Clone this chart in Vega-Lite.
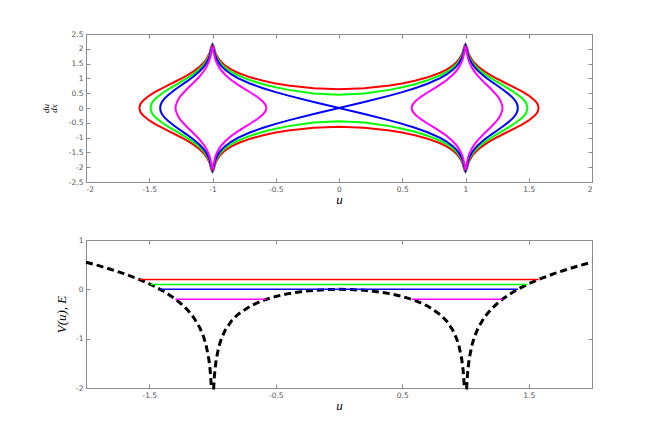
{
"$schema": "https://vega.github.io/schema/vega-lite/v6.json",
"padding": {"left": 40, "top": 29, "right": 5, "bottom": 5},
"bounds": "flush",
"spacing": 58,
"config": {
  "view": {"stroke": "#8c8c8c", "strokeWidth": 1},
  "axis": {"domain": false, "grid": false, "tickColor": "#8c8c8c", "tickSize": -4, "labelFont": "DejaVu Sans", "labelFontSize": 7.5, "labelColor": "#555555", "labelPadding": 7, "titleFont": "Liberation Serif", "titleFontStyle": "italic", "titleFontWeight": "normal", "titleColor": "#000000", "labelExpr": "'' + datum.value"}
},
"datasets": {
"phase": [
{"c":"r","k":"1a","u":-1.5786,"p":0},{"c":"r","k":"1a","u":-1.57,"p":0.135},{"c":"r","k":"1a","u":-1.55,"p":0.249},{"c":"r","k":"1a","u":-1.5,"p":0.421},{"c":"r","k":"1a","u":-1.45,"p":0.55},{"c":"r","k":"1a","u":-1.4,"p":0.664},{"c":"r","k":"1a","u":-1.35,"p":0.772},{"c":"r","k":"1a","u":-1.3,"p":0.878},{"c":"r","k":"1a","u":-1.25,"p":0.988},{"c":"r","k":"1a","u":-1.2,"p":1.105},{"c":"r","k":"1a","u":-1.15,"p":1.238},{"c":"r","k":"1a","u":-1.1,"p":1.4},{"c":"r","k":"1a","u":-1.07,"p":1.527},{"c":"r","k":"1a","u":-1.05,"p":1.636},{"c":"r","k":"1a","u":-1.03,"p":1.788},{"c":"r","k":"1a","u":-1.02,"p":1.9},{"c":"r","k":"1a","u":-1.01,"p":2.075},{"c":"r","k":"1a","u":-1,"p":2.15},{"c":"r","k":"1a","u":-0.99,"p":2.078},{"c":"r","k":"1a","u":-0.98,"p":1.905},{"c":"r","k":"1a","u":-0.97,"p":1.797},{"c":"r","k":"1a","u":-0.95,"p":1.652},{"c":"r","k":"1a","u":-0.93,"p":1.55},{"c":"r","k":"1a","u":-0.9,"p":1.436},{"c":"r","k":"1a","u":-0.85,"p":1.297},{"c":"r","k":"1a","u":-0.8,"p":1.192},{"c":"r","k":"1a","u":-0.7,"p":1.036},{"c":"r","k":"1a","u":-0.6,"p":0.92},{"c":"r","k":"1a","u":-0.5,"p":0.829},{"c":"r","k":"1a","u":-0.4,"p":0.758},{"c":"r","k":"1a","u":-0.2,"p":0.664},{"c":"r","k":"1a","u":0,"p":0.632},{"c":"r","k":"1a","u":0.2,"p":0.664},{"c":"r","k":"1a","u":0.4,"p":0.758},{"c":"r","k":"1a","u":0.5,"p":0.829},{"c":"r","k":"1a","u":0.6,"p":0.92},{"c":"r","k":"1a","u":0.7,"p":1.036},{"c":"r","k":"1a","u":0.8,"p":1.192},{"c":"r","k":"1a","u":0.85,"p":1.297},{"c":"r","k":"1a","u":0.9,"p":1.436},{"c":"r","k":"1a","u":0.93,"p":1.55},{"c":"r","k":"1a","u":0.95,"p":1.652},{"c":"r","k":"1a","u":0.97,"p":1.797},{"c":"r","k":"1a","u":0.98,"p":1.905},{"c":"r","k":"1a","u":0.99,"p":2.078},{"c":"r","k":"1a","u":1,"p":2.15},{"c":"r","k":"1a","u":1.01,"p":2.075},{"c":"r","k":"1a","u":1.02,"p":1.9},{"c":"r","k":"1a","u":1.03,"p":1.788},{"c":"r","k":"1a","u":1.05,"p":1.636},{"c":"r","k":"1a","u":1.07,"p":1.527},{"c":"r","k":"1a","u":1.1,"p":1.4},{"c":"r","k":"1a","u":1.15,"p":1.238},{"c":"r","k":"1a","u":1.2,"p":1.105},{"c":"r","k":"1a","u":1.25,"p":0.988},{"c":"r","k":"1a","u":1.3,"p":0.878},{"c":"r","k":"1a","u":1.35,"p":0.772},{"c":"r","k":"1a","u":1.4,"p":0.664},{"c":"r","k":"1a","u":1.45,"p":0.55},{"c":"r","k":"1a","u":1.5,"p":0.421},{"c":"r","k":"1a","u":1.55,"p":0.249},{"c":"r","k":"1a","u":1.57,"p":0.135},{"c":"r","k":"1a","u":1.5786,"p":0},
{"c":"r","k":"1b","u":-1.5786,"p":0},{"c":"r","k":"1b","u":-1.57,"p":-0.135},{"c":"r","k":"1b","u":-1.55,"p":-0.249},{"c":"r","k":"1b","u":-1.5,"p":-0.421},{"c":"r","k":"1b","u":-1.45,"p":-0.55},{"c":"r","k":"1b","u":-1.4,"p":-0.664},{"c":"r","k":"1b","u":-1.35,"p":-0.772},{"c":"r","k":"1b","u":-1.3,"p":-0.878},{"c":"r","k":"1b","u":-1.25,"p":-0.988},{"c":"r","k":"1b","u":-1.2,"p":-1.105},{"c":"r","k":"1b","u":-1.15,"p":-1.238},{"c":"r","k":"1b","u":-1.1,"p":-1.4},{"c":"r","k":"1b","u":-1.07,"p":-1.527},{"c":"r","k":"1b","u":-1.05,"p":-1.636},{"c":"r","k":"1b","u":-1.03,"p":-1.788},{"c":"r","k":"1b","u":-1.02,"p":-1.9},{"c":"r","k":"1b","u":-1.01,"p":-2.075},{"c":"r","k":"1b","u":-1,"p":-2.15},{"c":"r","k":"1b","u":-0.99,"p":-2.078},{"c":"r","k":"1b","u":-0.98,"p":-1.905},{"c":"r","k":"1b","u":-0.97,"p":-1.797},{"c":"r","k":"1b","u":-0.95,"p":-1.652},{"c":"r","k":"1b","u":-0.93,"p":-1.55},{"c":"r","k":"1b","u":-0.9,"p":-1.436},{"c":"r","k":"1b","u":-0.85,"p":-1.297},{"c":"r","k":"1b","u":-0.8,"p":-1.192},{"c":"r","k":"1b","u":-0.7,"p":-1.036},{"c":"r","k":"1b","u":-0.6,"p":-0.92},{"c":"r","k":"1b","u":-0.5,"p":-0.829},{"c":"r","k":"1b","u":-0.4,"p":-0.758},{"c":"r","k":"1b","u":-0.2,"p":-0.664},{"c":"r","k":"1b","u":0,"p":-0.632},{"c":"r","k":"1b","u":0.2,"p":-0.664},{"c":"r","k":"1b","u":0.4,"p":-0.758},{"c":"r","k":"1b","u":0.5,"p":-0.829},{"c":"r","k":"1b","u":0.6,"p":-0.92},{"c":"r","k":"1b","u":0.7,"p":-1.036},{"c":"r","k":"1b","u":0.8,"p":-1.192},{"c":"r","k":"1b","u":0.85,"p":-1.297},{"c":"r","k":"1b","u":0.9,"p":-1.436},{"c":"r","k":"1b","u":0.93,"p":-1.55},{"c":"r","k":"1b","u":0.95,"p":-1.652},{"c":"r","k":"1b","u":0.97,"p":-1.797},{"c":"r","k":"1b","u":0.98,"p":-1.905},{"c":"r","k":"1b","u":0.99,"p":-2.078},{"c":"r","k":"1b","u":1,"p":-2.15},{"c":"r","k":"1b","u":1.01,"p":-2.075},{"c":"r","k":"1b","u":1.02,"p":-1.9},{"c":"r","k":"1b","u":1.03,"p":-1.788},{"c":"r","k":"1b","u":1.05,"p":-1.636},{"c":"r","k":"1b","u":1.07,"p":-1.527},{"c":"r","k":"1b","u":1.1,"p":-1.4},{"c":"r","k":"1b","u":1.15,"p":-1.238},{"c":"r","k":"1b","u":1.2,"p":-1.105},{"c":"r","k":"1b","u":1.25,"p":-0.988},{"c":"r","k":"1b","u":1.3,"p":-0.878},{"c":"r","k":"1b","u":1.35,"p":-0.772},{"c":"r","k":"1b","u":1.4,"p":-0.664},{"c":"r","k":"1b","u":1.45,"p":-0.55},{"c":"r","k":"1b","u":1.5,"p":-0.421},{"c":"r","k":"1b","u":1.55,"p":-0.249},{"c":"r","k":"1b","u":1.57,"p":-0.135},{"c":"r","k":"1b","u":1.5786,"p":0},
{"c":"g","k":"2a","u":-1.4904,"p":0},{"c":"g","k":"2a","u":-1.48,"p":0.16},{"c":"g","k":"2a","u":-1.47,"p":0.225},{"c":"g","k":"2a","u":-1.45,"p":0.32},{"c":"g","k":"2a","u":-1.4,"p":0.491},{"c":"g","k":"2a","u":-1.35,"p":0.629},{"c":"g","k":"2a","u":-1.3,"p":0.756},{"c":"g","k":"2a","u":-1.25,"p":0.881},{"c":"g","k":"2a","u":-1.2,"p":1.01},{"c":"g","k":"2a","u":-1.15,"p":1.154},{"c":"g","k":"2a","u":-1.1,"p":1.327},{"c":"g","k":"2a","u":-1.07,"p":1.46},{"c":"g","k":"2a","u":-1.05,"p":1.574},{"c":"g","k":"2a","u":-1.03,"p":1.732},{"c":"g","k":"2a","u":-1.02,"p":1.846},{"c":"g","k":"2a","u":-1.01,"p":2.027},{"c":"g","k":"2a","u":-1,"p":2.13},{"c":"g","k":"2a","u":-0.99,"p":2.029},{"c":"g","k":"2a","u":-0.98,"p":1.852},{"c":"g","k":"2a","u":-0.97,"p":1.74},{"c":"g","k":"2a","u":-0.95,"p":1.59},{"c":"g","k":"2a","u":-0.93,"p":1.484},{"c":"g","k":"2a","u":-0.9,"p":1.364},{"c":"g","k":"2a","u":-0.85,"p":1.217},{"c":"g","k":"2a","u":-0.8,"p":1.105},{"c":"g","k":"2a","u":-0.7,"p":0.935},{"c":"g","k":"2a","u":-0.6,"p":0.804},{"c":"g","k":"2a","u":-0.5,"p":0.698},{"c":"g","k":"2a","u":-0.4,"p":0.612},{"c":"g","k":"2a","u":-0.2,"p":0.491},{"c":"g","k":"2a","u":0,"p":0.447},{"c":"g","k":"2a","u":0.2,"p":0.491},{"c":"g","k":"2a","u":0.4,"p":0.612},{"c":"g","k":"2a","u":0.5,"p":0.698},{"c":"g","k":"2a","u":0.6,"p":0.804},{"c":"g","k":"2a","u":0.7,"p":0.935},{"c":"g","k":"2a","u":0.8,"p":1.105},{"c":"g","k":"2a","u":0.85,"p":1.217},{"c":"g","k":"2a","u":0.9,"p":1.364},{"c":"g","k":"2a","u":0.93,"p":1.484},{"c":"g","k":"2a","u":0.95,"p":1.59},{"c":"g","k":"2a","u":0.97,"p":1.74},{"c":"g","k":"2a","u":0.98,"p":1.852},{"c":"g","k":"2a","u":0.99,"p":2.029},{"c":"g","k":"2a","u":1,"p":2.13},{"c":"g","k":"2a","u":1.01,"p":2.027},{"c":"g","k":"2a","u":1.02,"p":1.846},{"c":"g","k":"2a","u":1.03,"p":1.732},{"c":"g","k":"2a","u":1.05,"p":1.574},{"c":"g","k":"2a","u":1.07,"p":1.46},{"c":"g","k":"2a","u":1.1,"p":1.327},{"c":"g","k":"2a","u":1.15,"p":1.154},{"c":"g","k":"2a","u":1.2,"p":1.01},{"c":"g","k":"2a","u":1.25,"p":0.881},{"c":"g","k":"2a","u":1.3,"p":0.756},{"c":"g","k":"2a","u":1.35,"p":0.629},{"c":"g","k":"2a","u":1.4,"p":0.491},{"c":"g","k":"2a","u":1.45,"p":0.32},{"c":"g","k":"2a","u":1.47,"p":0.225},{"c":"g","k":"2a","u":1.48,"p":0.16},{"c":"g","k":"2a","u":1.4904,"p":0},
{"c":"g","k":"2b","u":-1.4904,"p":0},{"c":"g","k":"2b","u":-1.48,"p":-0.16},{"c":"g","k":"2b","u":-1.47,"p":-0.225},{"c":"g","k":"2b","u":-1.45,"p":-0.32},{"c":"g","k":"2b","u":-1.4,"p":-0.491},{"c":"g","k":"2b","u":-1.35,"p":-0.629},{"c":"g","k":"2b","u":-1.3,"p":-0.756},{"c":"g","k":"2b","u":-1.25,"p":-0.881},{"c":"g","k":"2b","u":-1.2,"p":-1.01},{"c":"g","k":"2b","u":-1.15,"p":-1.154},{"c":"g","k":"2b","u":-1.1,"p":-1.327},{"c":"g","k":"2b","u":-1.07,"p":-1.46},{"c":"g","k":"2b","u":-1.05,"p":-1.574},{"c":"g","k":"2b","u":-1.03,"p":-1.732},{"c":"g","k":"2b","u":-1.02,"p":-1.846},{"c":"g","k":"2b","u":-1.01,"p":-2.027},{"c":"g","k":"2b","u":-1,"p":-2.13},{"c":"g","k":"2b","u":-0.99,"p":-2.029},{"c":"g","k":"2b","u":-0.98,"p":-1.852},{"c":"g","k":"2b","u":-0.97,"p":-1.74},{"c":"g","k":"2b","u":-0.95,"p":-1.59},{"c":"g","k":"2b","u":-0.93,"p":-1.484},{"c":"g","k":"2b","u":-0.9,"p":-1.364},{"c":"g","k":"2b","u":-0.85,"p":-1.217},{"c":"g","k":"2b","u":-0.8,"p":-1.105},{"c":"g","k":"2b","u":-0.7,"p":-0.935},{"c":"g","k":"2b","u":-0.6,"p":-0.804},{"c":"g","k":"2b","u":-0.5,"p":-0.698},{"c":"g","k":"2b","u":-0.4,"p":-0.612},{"c":"g","k":"2b","u":-0.2,"p":-0.491},{"c":"g","k":"2b","u":0,"p":-0.447},{"c":"g","k":"2b","u":0.2,"p":-0.491},{"c":"g","k":"2b","u":0.4,"p":-0.612},{"c":"g","k":"2b","u":0.5,"p":-0.698},{"c":"g","k":"2b","u":0.6,"p":-0.804},{"c":"g","k":"2b","u":0.7,"p":-0.935},{"c":"g","k":"2b","u":0.8,"p":-1.105},{"c":"g","k":"2b","u":0.85,"p":-1.217},{"c":"g","k":"2b","u":0.9,"p":-1.364},{"c":"g","k":"2b","u":0.93,"p":-1.484},{"c":"g","k":"2b","u":0.95,"p":-1.59},{"c":"g","k":"2b","u":0.97,"p":-1.74},{"c":"g","k":"2b","u":0.98,"p":-1.852},{"c":"g","k":"2b","u":0.99,"p":-2.029},{"c":"g","k":"2b","u":1,"p":-2.13},{"c":"g","k":"2b","u":1.01,"p":-2.027},{"c":"g","k":"2b","u":1.02,"p":-1.846},{"c":"g","k":"2b","u":1.03,"p":-1.732},{"c":"g","k":"2b","u":1.05,"p":-1.574},{"c":"g","k":"2b","u":1.07,"p":-1.46},{"c":"g","k":"2b","u":1.1,"p":-1.327},{"c":"g","k":"2b","u":1.15,"p":-1.154},{"c":"g","k":"2b","u":1.2,"p":-1.01},{"c":"g","k":"2b","u":1.25,"p":-0.881},{"c":"g","k":"2b","u":1.3,"p":-0.756},{"c":"g","k":"2b","u":1.35,"p":-0.629},{"c":"g","k":"2b","u":1.4,"p":-0.491},{"c":"g","k":"2b","u":1.45,"p":-0.32},{"c":"g","k":"2b","u":1.47,"p":-0.225},{"c":"g","k":"2b","u":1.48,"p":-0.16},{"c":"g","k":"2b","u":1.4904,"p":0},
{"c":"b","k":"3a","u":-1.4142,"p":0},{"c":"b","k":"3a","u":-1.41,"p":0.109},{"c":"b","k":"3a","u":-1.4,"p":0.202},{"c":"b","k":"3a","u":-1.38,"p":0.317},{"c":"b","k":"3a","u":-1.35,"p":0.442},{"c":"b","k":"3a","u":-1.3,"p":0.609},{"c":"b","k":"3a","u":-1.25,"p":0.759},{"c":"b","k":"3a","u":-1.2,"p":0.906},{"c":"b","k":"3a","u":-1.15,"p":1.064},{"c":"b","k":"3a","u":-1.1,"p":1.249},{"c":"b","k":"3a","u":-1.07,"p":1.39},{"c":"b","k":"3a","u":-1.05,"p":1.509},{"c":"b","k":"3a","u":-1.03,"p":1.673},{"c":"b","k":"3a","u":-1.02,"p":1.791},{"c":"b","k":"3a","u":-1.01,"p":1.977},{"c":"b","k":"3a","u":-1,"p":2.11},{"c":"b","k":"3a","u":-0.99,"p":1.979},{"c":"b","k":"3a","u":-0.98,"p":1.797},{"c":"b","k":"3a","u":-0.97,"p":1.682},{"c":"b","k":"3a","u":-0.95,"p":1.526},{"c":"b","k":"3a","u":-0.93,"p":1.415},{"c":"b","k":"3a","u":-0.9,"p":1.289},{"c":"b","k":"3a","u":-0.85,"p":1.132},{"c":"b","k":"3a","u":-0.8,"p":1.011},{"c":"b","k":"3a","u":-0.7,"p":0.821},{"c":"b","k":"3a","u":-0.6,"p":0.668},{"c":"b","k":"3a","u":-0.5,"p":0.536},{"c":"b","k":"3a","u":-0.4,"p":0.418},{"c":"b","k":"3a","u":-0.2,"p":0.202},{"c":"b","k":"3a","u":0,"p":0},{"c":"b","k":"3a","u":0.2,"p":0.202},{"c":"b","k":"3a","u":0.4,"p":0.418},{"c":"b","k":"3a","u":0.5,"p":0.536},{"c":"b","k":"3a","u":0.6,"p":0.668},{"c":"b","k":"3a","u":0.7,"p":0.821},{"c":"b","k":"3a","u":0.8,"p":1.011},{"c":"b","k":"3a","u":0.85,"p":1.132},{"c":"b","k":"3a","u":0.9,"p":1.289},{"c":"b","k":"3a","u":0.93,"p":1.415},{"c":"b","k":"3a","u":0.95,"p":1.526},{"c":"b","k":"3a","u":0.97,"p":1.682},{"c":"b","k":"3a","u":0.98,"p":1.797},{"c":"b","k":"3a","u":0.99,"p":1.979},{"c":"b","k":"3a","u":1,"p":2.11},{"c":"b","k":"3a","u":1.01,"p":1.977},{"c":"b","k":"3a","u":1.02,"p":1.791},{"c":"b","k":"3a","u":1.03,"p":1.673},{"c":"b","k":"3a","u":1.05,"p":1.509},{"c":"b","k":"3a","u":1.07,"p":1.39},{"c":"b","k":"3a","u":1.1,"p":1.249},{"c":"b","k":"3a","u":1.15,"p":1.064},{"c":"b","k":"3a","u":1.2,"p":0.906},{"c":"b","k":"3a","u":1.25,"p":0.759},{"c":"b","k":"3a","u":1.3,"p":0.609},{"c":"b","k":"3a","u":1.35,"p":0.442},{"c":"b","k":"3a","u":1.38,"p":0.317},{"c":"b","k":"3a","u":1.4,"p":0.202},{"c":"b","k":"3a","u":1.41,"p":0.109},{"c":"b","k":"3a","u":1.4142,"p":0},
{"c":"b","k":"3b","u":-1.4142,"p":0},{"c":"b","k":"3b","u":-1.41,"p":-0.109},{"c":"b","k":"3b","u":-1.4,"p":-0.202},{"c":"b","k":"3b","u":-1.38,"p":-0.317},{"c":"b","k":"3b","u":-1.35,"p":-0.442},{"c":"b","k":"3b","u":-1.3,"p":-0.609},{"c":"b","k":"3b","u":-1.25,"p":-0.759},{"c":"b","k":"3b","u":-1.2,"p":-0.906},{"c":"b","k":"3b","u":-1.15,"p":-1.064},{"c":"b","k":"3b","u":-1.1,"p":-1.249},{"c":"b","k":"3b","u":-1.07,"p":-1.39},{"c":"b","k":"3b","u":-1.05,"p":-1.509},{"c":"b","k":"3b","u":-1.03,"p":-1.673},{"c":"b","k":"3b","u":-1.02,"p":-1.791},{"c":"b","k":"3b","u":-1.01,"p":-1.977},{"c":"b","k":"3b","u":-1,"p":-2.11},{"c":"b","k":"3b","u":-0.99,"p":-1.979},{"c":"b","k":"3b","u":-0.98,"p":-1.797},{"c":"b","k":"3b","u":-0.97,"p":-1.682},{"c":"b","k":"3b","u":-0.95,"p":-1.526},{"c":"b","k":"3b","u":-0.93,"p":-1.415},{"c":"b","k":"3b","u":-0.9,"p":-1.289},{"c":"b","k":"3b","u":-0.85,"p":-1.132},{"c":"b","k":"3b","u":-0.8,"p":-1.011},{"c":"b","k":"3b","u":-0.7,"p":-0.821},{"c":"b","k":"3b","u":-0.6,"p":-0.668},{"c":"b","k":"3b","u":-0.5,"p":-0.536},{"c":"b","k":"3b","u":-0.4,"p":-0.418},{"c":"b","k":"3b","u":-0.2,"p":-0.202},{"c":"b","k":"3b","u":0,"p":0},{"c":"b","k":"3b","u":0.2,"p":-0.202},{"c":"b","k":"3b","u":0.4,"p":-0.418},{"c":"b","k":"3b","u":0.5,"p":-0.536},{"c":"b","k":"3b","u":0.6,"p":-0.668},{"c":"b","k":"3b","u":0.7,"p":-0.821},{"c":"b","k":"3b","u":0.8,"p":-1.011},{"c":"b","k":"3b","u":0.85,"p":-1.132},{"c":"b","k":"3b","u":0.9,"p":-1.289},{"c":"b","k":"3b","u":0.93,"p":-1.415},{"c":"b","k":"3b","u":0.95,"p":-1.526},{"c":"b","k":"3b","u":0.97,"p":-1.682},{"c":"b","k":"3b","u":0.98,"p":-1.797},{"c":"b","k":"3b","u":0.99,"p":-1.979},{"c":"b","k":"3b","u":1,"p":-2.11},{"c":"b","k":"3b","u":1.01,"p":-1.977},{"c":"b","k":"3b","u":1.02,"p":-1.791},{"c":"b","k":"3b","u":1.03,"p":-1.673},{"c":"b","k":"3b","u":1.05,"p":-1.509},{"c":"b","k":"3b","u":1.07,"p":-1.39},{"c":"b","k":"3b","u":1.1,"p":-1.249},{"c":"b","k":"3b","u":1.15,"p":-1.064},{"c":"b","k":"3b","u":1.2,"p":-0.906},{"c":"b","k":"3b","u":1.25,"p":-0.759},{"c":"b","k":"3b","u":1.3,"p":-0.609},{"c":"b","k":"3b","u":1.35,"p":-0.442},{"c":"b","k":"3b","u":1.38,"p":-0.317},{"c":"b","k":"3b","u":1.4,"p":-0.202},{"c":"b","k":"3b","u":1.41,"p":-0.109},{"c":"b","k":"3b","u":1.4142,"p":0},
{"c":"m","k":"4a","u":0.5742,"p":0},{"c":"m","k":"4a","u":0.58,"p":0.1},{"c":"m","k":"4a","u":0.6,"p":0.215},{"c":"m","k":"4a","u":0.65,"p":0.386},{"c":"m","k":"4a","u":0.7,"p":0.523},{"c":"m","k":"4a","u":0.75,"p":0.653},{"c":"m","k":"4a","u":0.8,"p":0.788},{"c":"m","k":"4a","u":0.85,"p":0.939},{"c":"m","k":"4a","u":0.9,"p":1.123},{"c":"m","k":"4a","u":0.93,"p":1.266},{"c":"m","k":"4a","u":0.95,"p":1.388},{"c":"m","k":"4a","u":0.97,"p":1.558},{"c":"m","k":"4a","u":0.98,"p":1.682},{"c":"m","k":"4a","u":0.99,"p":1.875},{"c":"m","k":"4a","u":1,"p":2.1},{"c":"m","k":"4a","u":1.01,"p":1.873},{"c":"m","k":"4a","u":1.02,"p":1.676},{"c":"m","k":"4a","u":1.03,"p":1.549},{"c":"m","k":"4a","u":1.05,"p":1.37},{"c":"m","k":"4a","u":1.07,"p":1.238},{"c":"m","k":"4a","u":1.1,"p":1.077},{"c":"m","k":"4a","u":1.15,"p":0.855},{"c":"m","k":"4a","u":1.2,"p":0.649},{"c":"m","k":"4a","u":1.25,"p":0.419},{"c":"m","k":"4a","u":1.27,"p":0.299},{"c":"m","k":"4a","u":1.29,"p":0.097},{"c":"m","k":"4a","u":1.2924,"p":0},
{"c":"m","k":"4b","u":0.5742,"p":0},{"c":"m","k":"4b","u":0.58,"p":-0.1},{"c":"m","k":"4b","u":0.6,"p":-0.215},{"c":"m","k":"4b","u":0.65,"p":-0.386},{"c":"m","k":"4b","u":0.7,"p":-0.523},{"c":"m","k":"4b","u":0.75,"p":-0.653},{"c":"m","k":"4b","u":0.8,"p":-0.788},{"c":"m","k":"4b","u":0.85,"p":-0.939},{"c":"m","k":"4b","u":0.9,"p":-1.123},{"c":"m","k":"4b","u":0.93,"p":-1.266},{"c":"m","k":"4b","u":0.95,"p":-1.388},{"c":"m","k":"4b","u":0.97,"p":-1.558},{"c":"m","k":"4b","u":0.98,"p":-1.682},{"c":"m","k":"4b","u":0.99,"p":-1.875},{"c":"m","k":"4b","u":1,"p":-2.1},{"c":"m","k":"4b","u":1.01,"p":-1.873},{"c":"m","k":"4b","u":1.02,"p":-1.676},{"c":"m","k":"4b","u":1.03,"p":-1.549},{"c":"m","k":"4b","u":1.05,"p":-1.37},{"c":"m","k":"4b","u":1.07,"p":-1.238},{"c":"m","k":"4b","u":1.1,"p":-1.077},{"c":"m","k":"4b","u":1.15,"p":-0.855},{"c":"m","k":"4b","u":1.2,"p":-0.649},{"c":"m","k":"4b","u":1.25,"p":-0.419},{"c":"m","k":"4b","u":1.27,"p":-0.299},{"c":"m","k":"4b","u":1.29,"p":-0.097},{"c":"m","k":"4b","u":1.2924,"p":0},
{"c":"m","k":"4c","u":-1.2924,"p":0},{"c":"m","k":"4c","u":-1.29,"p":0.097},{"c":"m","k":"4c","u":-1.27,"p":0.299},{"c":"m","k":"4c","u":-1.25,"p":0.419},{"c":"m","k":"4c","u":-1.2,"p":0.649},{"c":"m","k":"4c","u":-1.15,"p":0.855},{"c":"m","k":"4c","u":-1.1,"p":1.077},{"c":"m","k":"4c","u":-1.07,"p":1.238},{"c":"m","k":"4c","u":-1.05,"p":1.37},{"c":"m","k":"4c","u":-1.03,"p":1.549},{"c":"m","k":"4c","u":-1.02,"p":1.676},{"c":"m","k":"4c","u":-1.01,"p":1.873},{"c":"m","k":"4c","u":-1,"p":2.1},{"c":"m","k":"4c","u":-0.99,"p":1.875},{"c":"m","k":"4c","u":-0.98,"p":1.682},{"c":"m","k":"4c","u":-0.97,"p":1.558},{"c":"m","k":"4c","u":-0.95,"p":1.388},{"c":"m","k":"4c","u":-0.93,"p":1.266},{"c":"m","k":"4c","u":-0.9,"p":1.123},{"c":"m","k":"4c","u":-0.85,"p":0.939},{"c":"m","k":"4c","u":-0.8,"p":0.788},{"c":"m","k":"4c","u":-0.75,"p":0.653},{"c":"m","k":"4c","u":-0.7,"p":0.523},{"c":"m","k":"4c","u":-0.65,"p":0.386},{"c":"m","k":"4c","u":-0.6,"p":0.215},{"c":"m","k":"4c","u":-0.58,"p":0.1},{"c":"m","k":"4c","u":-0.5742,"p":0},
{"c":"m","k":"4d","u":-1.2924,"p":0},{"c":"m","k":"4d","u":-1.29,"p":-0.097},{"c":"m","k":"4d","u":-1.27,"p":-0.299},{"c":"m","k":"4d","u":-1.25,"p":-0.419},{"c":"m","k":"4d","u":-1.2,"p":-0.649},{"c":"m","k":"4d","u":-1.15,"p":-0.855},{"c":"m","k":"4d","u":-1.1,"p":-1.077},{"c":"m","k":"4d","u":-1.07,"p":-1.238},{"c":"m","k":"4d","u":-1.05,"p":-1.37},{"c":"m","k":"4d","u":-1.03,"p":-1.549},{"c":"m","k":"4d","u":-1.02,"p":-1.676},{"c":"m","k":"4d","u":-1.01,"p":-1.873},{"c":"m","k":"4d","u":-1,"p":-2.1},{"c":"m","k":"4d","u":-0.99,"p":-1.875},{"c":"m","k":"4d","u":-0.98,"p":-1.682},{"c":"m","k":"4d","u":-0.97,"p":-1.558},{"c":"m","k":"4d","u":-0.95,"p":-1.388},{"c":"m","k":"4d","u":-0.93,"p":-1.266},{"c":"m","k":"4d","u":-0.9,"p":-1.123},{"c":"m","k":"4d","u":-0.85,"p":-0.939},{"c":"m","k":"4d","u":-0.8,"p":-0.788},{"c":"m","k":"4d","u":-0.75,"p":-0.653},{"c":"m","k":"4d","u":-0.7,"p":-0.523},{"c":"m","k":"4d","u":-0.65,"p":-0.386},{"c":"m","k":"4d","u":-0.6,"p":-0.215},{"c":"m","k":"4d","u":-0.58,"p":-0.1},{"c":"m","k":"4d","u":-0.5742,"p":0}
],
"pot": [
{"u":-2,"v":0.549},{"u":-1.9,"v":0.48},{"u":-1.8,"v":0.403},{"u":-1.7,"v":0.318},{"u":-1.6,"v":0.222},{"u":-1.55,"v":0.169},{"u":-1.5,"v":0.112},{"u":-1.45,"v":0.049},{"u":-1.4,"v":-0.02},{"u":-1.35,"v":-0.098},{"u":-1.3,"v":-0.186},{"u":-1.25,"v":-0.288},{"u":-1.2,"v":-0.41},{"u":-1.15,"v":-0.566},{"u":-1.1,"v":-0.78},{"u":-1.07,"v":-0.966},{"u":-1.05,"v":-1.139},{"u":-1.03,"v":-1.399},{"u":-1.02,"v":-1.604},{"u":-1.015,"v":-1.75},{"u":-1.01,"v":-1.954},{"u":-1.0092,"v":-2},{"u":-0.9908,"v":-2},{"u":-0.99,"v":-1.959},{"u":-0.985,"v":-1.757},{"u":-0.98,"v":-1.614},{"u":-0.97,"v":-1.414},{"u":-0.95,"v":-1.164},{"u":-0.93,"v":-1.001},{"u":-0.9,"v":-0.83},{"u":-0.85,"v":-0.641},{"u":-0.8,"v":-0.511},{"u":-0.7,"v":-0.337},{"u":-0.6,"v":-0.223},{"u":-0.5,"v":-0.144},{"u":-0.4,"v":-0.087},{"u":-0.3,"v":-0.047},{"u":-0.2,"v":-0.02},{"u":-0.1,"v":-0.005},{"u":0,"v":0},{"u":0.1,"v":-0.005},{"u":0.2,"v":-0.02},{"u":0.3,"v":-0.047},{"u":0.4,"v":-0.087},{"u":0.5,"v":-0.144},{"u":0.6,"v":-0.223},{"u":0.7,"v":-0.337},{"u":0.8,"v":-0.511},{"u":0.85,"v":-0.641},{"u":0.9,"v":-0.83},{"u":0.93,"v":-1.001},{"u":0.95,"v":-1.164},{"u":0.97,"v":-1.414},{"u":0.98,"v":-1.614},{"u":0.985,"v":-1.757},{"u":0.99,"v":-1.959},{"u":0.9908,"v":-2},{"u":1.0092,"v":-2},{"u":1.01,"v":-1.954},{"u":1.015,"v":-1.75},{"u":1.02,"v":-1.604},{"u":1.03,"v":-1.399},{"u":1.05,"v":-1.139},{"u":1.07,"v":-0.966},{"u":1.1,"v":-0.78},{"u":1.15,"v":-0.566},{"u":1.2,"v":-0.41},{"u":1.25,"v":-0.288},{"u":1.3,"v":-0.186},{"u":1.35,"v":-0.098},{"u":1.4,"v":-0.02},{"u":1.45,"v":0.049},{"u":1.5,"v":0.112},{"u":1.55,"v":0.169},{"u":1.6,"v":0.222},{"u":1.7,"v":0.318},{"u":1.8,"v":0.403},{"u":1.9,"v":0.48},{"u":2,"v":0.549}
],
"lev": [
{"c":"r","k":"1","u":-1.5786,"v":0.2},{"c":"r","k":"1","u":1.5786,"v":0.2},
{"c":"g","k":"2","u":-1.4904,"v":0.1},{"c":"g","k":"2","u":1.4904,"v":0.1},
{"c":"b","k":"3","u":-1.4142,"v":0},{"c":"b","k":"3","u":1.4142,"v":0},
{"c":"m","k":"4a","u":-1.2924,"v":-0.2},{"c":"m","k":"4a","u":-0.5742,"v":-0.2},
{"c":"m","k":"4b","u":0.5742,"v":-0.2},{"c":"m","k":"4b","u":1.2924,"v":-0.2}
]
},
"vconcat": [
{
 "width": 506, "height": 148,
 "layer": [
  {
   "data": {"name": "phase"},
   "mark": {"type": "line", "strokeWidth": 2},
   "encoding": {
    "x": {"field": "u", "type": "quantitative", "scale": {"domain": [-2, 2], "nice": false, "zero": false},
          "axis": {"orient": "bottom", "values": [-2,-1.5,-1,-0.5,0,0.5,1,1.5,2], "title": "u", "titleFontSize": 13, "titlePadding": 1}},
    "y": {"field": "p", "type": "quantitative", "scale": {"domain": [-2.5, 2.5], "nice": false, "zero": false},
          "axis": {"orient": "left", "values": [-2.5,-2,-1.5,-1,-0.5,0,0.5,1,1.5,2,2.5], "title": ["du","dx"], "titleFontSize": 9, "titleLineHeight": 8, "titlePadding": 10}},
    "color": {"field": "c", "type": "nominal", "scale": {"domain": ["r","g","b","m"], "range": ["#ff0000","#00ff00","#0000ff","#ff00ff"]}, "legend": null},
    "detail": {"field": "k", "type": "nominal"}
   }
  },
  {
   "data": {"values": [{"u": 0, "p": 0}]},
   "mark": {"type": "point", "opacity": 0},
   "encoding": {
    "x": {"field": "u", "type": "quantitative", "axis": {"orient": "top", "values": [-2,-1.5,-1,-0.5,0,0.5,1,1.5,2], "labels": false, "title": null}},
    "y": {"field": "p", "type": "quantitative", "axis": {"orient": "right", "values": [-2.5,-2,-1.5,-1,-0.5,0,0.5,1,1.5,2,2.5], "labels": false, "title": null}}
   }
  }
 ]
},
{
 "width": 506, "height": 148,
 "layer": [
  {
   "data": {"name": "pot"},
   "mark": {"type": "line", "strokeWidth": 3, "color": "#000000", "strokeDash": [7, 4]},
   "encoding": {
    "x": {"field": "u", "type": "quantitative", "scale": {"domain": [-2, 2], "nice": false, "zero": false},
          "axis": {"orient": "bottom", "values": [-1.5,-0.5,0.5,1.5], "title": "u", "titleFontSize": 13, "titlePadding": 1}},
    "y": {"field": "v", "type": "quantitative", "scale": {"domain": [-2, 1], "nice": false, "zero": false},
          "axis": {"orient": "left", "values": [-2,-1,0,1], "title": "V(u), E", "titleFontSize": 13, "titlePadding": 7}}
   }
  },
  {
   "data": {"name": "lev"},
   "mark": {"type": "line", "strokeWidth": 1.5},
   "encoding": {
    "x": {"field": "u", "type": "quantitative", "axis": {"orient": "top", "values": [-1.5,-0.5,0.5,1.5], "labels": false, "title": null}},
    "y": {"field": "v", "type": "quantitative", "axis": {"orient": "right", "values": [-2,-1,0,1], "labels": false, "title": null}},
    "color": {"field": "c", "type": "nominal", "scale": {"domain": ["r","g","b","m"], "range": ["#ff0000","#00ff00","#0000ff","#ff00ff"]}, "legend": null},
    "detail": {"field": "k", "type": "nominal"}
   }
  }
 ]
}
]
}
